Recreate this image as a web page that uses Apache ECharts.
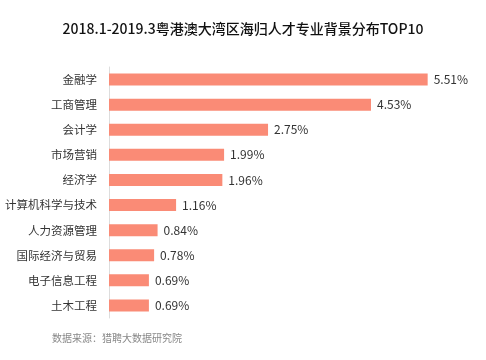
<!DOCTYPE html>
<html><head><meta charset="utf-8">
<script src="https://cdn.jsdelivr.net/npm/echarts@6/dist/echarts.min.js"></script>
<style>html,body{margin:0;padding:0;background:#fff}#c{width:486px;height:360px}</style>
</head><body><div id="c"></div>
<script>
const categories = ['金融学','工商管理','会计学','市场营销','经济学','计算机科学与技术','人力资源管理','国际经济与贸易','电子信息工程','土木工程'];
const values = [5.51,4.53,2.75,1.99,1.96,1.16,0.84,0.78,0.69,0.69];
const titleText = '2018.1-2019.3粤港澳大湾区海归人才专业背景分布TOP10';
const sourceText = '数据来源：猎聘大数据研究院';
const font = '"Noto Sans CJK SC", "Noto Sans", sans-serif';
const chart = echarts.init(document.getElementById('c'));
chart.setOption({
  backgroundColor: '#fff',
  animation: false,
  title: [{
    text: titleText, left: 238, top: 17, textAlign: 'center',
    textStyle: {fontFamily: font, fontSize: 14, fontWeight: 500, color: '#111'}
  }, {
    text: sourceText, left: 47, top: 328,
    textStyle: {fontFamily: font, fontSize: 10, fontWeight: 'normal', color: '#888'}
  }],
  grid: {left: 109, right: 30, top: 67, bottom: 42, containLabel: false},
  xAxis: {type: 'value', min: 0, max: 6, show: false},
  yAxis: {
    type: 'category', data: categories, inverse: true,
    axisLine: {show: true, lineStyle: {color: '#ddd', width: 1}},
    axisTick: {show: false},
    axisLabel: {fontFamily: font, fontSize: 11.5, color: '#333', margin: 12}
  },
  series: [{
    type: 'bar', data: values, barWidth: 12,
    itemStyle: {color: '#FA8B76'},
    label: {show: true, position: 'right', distance: 6, formatter: p => p.value.toFixed(2) + '%',
      fontFamily: font, fontSize: 12, color: '#333'}
  }]
});
</script></body></html>
